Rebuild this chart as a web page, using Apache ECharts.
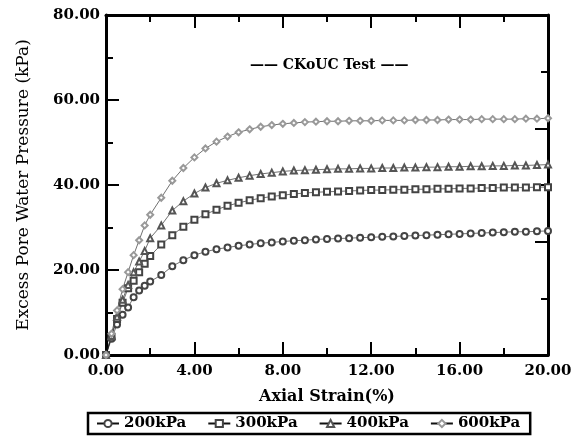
<!DOCTYPE html>
<html>
<head>
<meta charset="utf-8">
<script src="https://cdn.jsdelivr.net/npm/echarts@6/dist/echarts.min.js"></script>
<style>
html,body{margin:0;padding:0;background:#fff;}
#chart{width:583px;height:439px;}
</style>
</head>
<body>
<div id="chart"></div>
<script>
// Axial strain (%) sample positions
const strain = [0,0.25,0.5,0.75,1,1.25,1.5,1.75,2,2.5,3,3.5,4,4.5,5,5.5,6,6.5,7,7.5,8,8.5,9,9.5,10,10.5,11,11.5,12,12.5,13,13.5,14,14.5,15,15.5,16,16.5,17,17.5,18,18.5,19,19.5,20];

// Excess pore water pressure (kPa)
const p200 = [0,3.8,7.2,9.5,11.2,13.6,15.2,16.3,17.3,18.8,20.9,22.3,23.5,24.3,24.9,25.3,25.7,26.0,26.3,26.5,26.7,26.9,27.0,27.2,27.3,27.4,27.5,27.6,27.7,27.8,27.9,28.0,28.1,28.2,28.3,28.4,28.5,28.6,28.7,28.8,28.9,29.0,29.0,29.1,29.2];
const p300 = [0,4.3,8.5,12.3,15.7,17.5,19.5,21.5,23.3,26.0,28.2,30.2,31.8,33.1,34.2,35.1,35.8,36.4,36.9,37.3,37.6,37.9,38.1,38.3,38.4,38.5,38.6,38.7,38.8,38.8,38.9,38.9,39.0,39.0,39.1,39.1,39.2,39.2,39.3,39.3,39.4,39.4,39.4,39.5,39.5];
const p400 = [0,4.5,9.0,13.0,16.5,19.5,22.0,24.5,27.5,30.5,34.0,36.2,38.0,39.4,40.4,41.1,41.7,42.2,42.6,42.9,43.2,43.4,43.5,43.6,43.7,43.8,43.8,43.9,43.9,44.0,44.0,44.1,44.1,44.2,44.2,44.3,44.3,44.4,44.4,44.5,44.5,44.6,44.6,44.7,44.8];
const p600 = [0,5.0,10.5,15.5,19.5,23.5,27.0,30.5,33.0,37.0,41.0,44.0,46.5,48.6,50.2,51.4,52.4,53.1,53.7,54.1,54.4,54.6,54.8,54.9,55.0,55.0,55.1,55.1,55.1,55.2,55.2,55.2,55.3,55.3,55.3,55.4,55.4,55.4,55.5,55.5,55.5,55.5,55.6,55.6,55.7];

const seriesNames = ['200kPa','300kPa','400kPa','600kPa'];
const seriesValues = [p200,p300,p400,p600];
const seriesSymbols = ['emptyCircle','emptyRect','emptyTriangle','emptyDiamond'];
const seriesColors = ['#444','#444','#555','#999'];

const titleText = '—— CKoUC Test ——';
const xName = 'Axial Strain(%)';
const yName = 'Excess Pore Water Pressure (kPa)';

const serif = 'DejaVu Serif';
const chart = echarts.init(document.getElementById('chart'), null, {renderer:'canvas'});

const axisLine = {show:true, onZero:false, lineStyle:{color:'#000', width:3}};
const majorTick = {show:true, inside:true, length:13, lineStyle:{color:'#000', width:2}};
const minorTick = {show:true, splitNumber:2, length:7, lineStyle:{color:'#000', width:2}};
const labelFont = {fontFamily:serif, fontSize:15, fontWeight:'bold', color:'#000'};

chart.setOption({
  animation:false,
  backgroundColor:'#fff',
  title:{
    text:titleText, left:245, top:53,
    textStyle:{fontFamily:serif, fontSize:14, fontWeight:'bold', color:'#000'}
  },
  legend:{
    data:seriesNames,
    left:88, top:413,
    padding:[3,10,3,8],
    itemGap:21,
    itemWidth:22, itemHeight:9,
    borderColor:'#000', borderWidth:2.5,
    textStyle:{fontFamily:serif, fontSize:15, fontWeight:'bold', color:'#000'}
  },
  grid:{left:106, right:35, top:15, bottom:84},
  xAxis:[{
    type:'value', min:0, max:20, interval:4,
    name:xName, nameLocation:'middle', nameGap:34,
    nameTextStyle:{fontFamily:serif, fontSize:16, fontWeight:'bold', color:'#000'},
    axisLine:axisLine, axisTick:majorTick, minorTick:minorTick,
    axisLabel:Object.assign({margin:9, formatter:v=>v.toFixed(2)}, labelFont),
    splitLine:{show:false}
  },{
    type:'value', position:'top', min:0, max:20, interval:4,
    axisLine:axisLine, axisTick:majorTick, minorTick:minorTick,
    axisLabel:{show:false}, splitLine:{show:false}
  }],
  yAxis:[{
    type:'value', min:0, max:80, interval:20,
    name:yName, nameLocation:'middle', nameGap:74, nameRotate:90,
    nameTextStyle:{fontFamily:serif, fontSize:17, color:'#000'},
    axisLine:axisLine, axisTick:majorTick, minorTick:minorTick,
    axisLabel:Object.assign({margin:6, formatter:v=>v.toFixed(2)}, labelFont),
    splitLine:{show:false}
  },{
    type:'value', position:'right', min:0, max:80, interval:80/3,
    axisLine:axisLine, axisTick:majorTick, minorTick:minorTick,
    axisLabel:{show:false}, splitLine:{show:false}
  }],
  series: seriesNames.map((n,i)=>({
    name:n, type:'line', xAxisIndex:0, yAxisIndex:0,
    data: strain.map((s,j)=>[s, seriesValues[i][j]]),
    symbol:seriesSymbols[i], symbolSize:6,
    showAllSymbol:true,
    lineStyle:{color:'#111', width:0.6},
    itemStyle:{color:seriesColors[i], borderColor:seriesColors[i], borderWidth:0.7},
    z:2
  }))
});
</script>
</body>
</html>
